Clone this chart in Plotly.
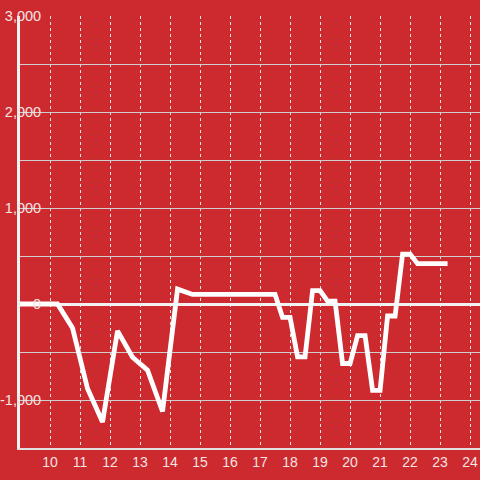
import plotly.graph_objects as go

# Data
hours = [9.0, 9.25, 9.5, 9.75, 10.0, 10.25, 10.75, 11.25, 11.75, 12.25, 12.75, 13.25, 13.75,
         14.25, 14.75, 15.25, 15.75, 16.25, 16.75, 17.25, 17.5,
         17.75, 18.0, 18.25, 18.5, 18.75, 19.0, 19.25, 19.5, 19.75, 20.0,
         20.25, 20.5, 20.75, 21.0, 21.25, 21.5, 21.75, 22.0, 22.25, 22.5,
         22.75, 23.0, 23.25]
values = [0, 0, 0, 0, 0, 0, -250, -880, -1230, -280, -555, -690, -1120,
          155, 100, 100, 100, 100, 100, 100, 100,
          -140, -140, -550, -550, 140, 140, 30, 30, -620, -620,
          -330, -330, -900, -900, -125, -125, 520, 520, 420, 420,
          420, 420, 420]

x_ticks = list(range(10, 25))
y_ticks = [-1500, -1000, -500, 0, 500, 1000, 1500, 2000, 2500, 3000]
y_tick_text = ["", "-1,000", "", "0", "", "1,000", "", "2,000", "", "3,000"]

BG = "#cc2a2f"
TXT = "#f6e4e4"

fig = go.Figure()
fig.add_trace(go.Scatter(
    x=hours, y=values, mode="lines",
    line=dict(color="#ffffff", width=4.8),
    hoverinfo="skip", showlegend=False,
))

fig.update_layout(
    width=480, height=480,
    paper_bgcolor=BG, plot_bgcolor=BG,
    margin=dict(l=20, r=0, t=16, b=32),
    font=dict(family="Liberation Sans, Arial, sans-serif", size=14, color=TXT),
    xaxis=dict(
        range=[9, 24.33],
        tickvals=x_ticks,
        ticktext=[str(v) for v in x_ticks],
        showgrid=True, gridcolor="#e6e6e6", griddash="dot", gridwidth=1,
        zeroline=False,
        showline=True, linecolor="#e0e0e0", linewidth=2,
        ticks="",
        tickfont=dict(size=14, color=TXT),
    ),
    yaxis=dict(
        range=[-1500, 3000],
        tickvals=y_ticks,
        ticktext=y_tick_text,
        showgrid=True, gridcolor="#cfcfcf", gridwidth=1,
        zeroline=True, zerolinecolor="#f2f2f2", zerolinewidth=3,
        showline=True, linecolor="#f2f2f2", linewidth=3,
        ticks="",
        ticklabelstandoff=-27,
        tickfont=dict(size=14.5, color=TXT),
    ),
)

fig.write_html(
    "out.html",
    config={"displayModeBar": False, "staticPlot": True},
    post_script="document.body.style.margin='0';document.body.style.overflow='hidden';",
)
